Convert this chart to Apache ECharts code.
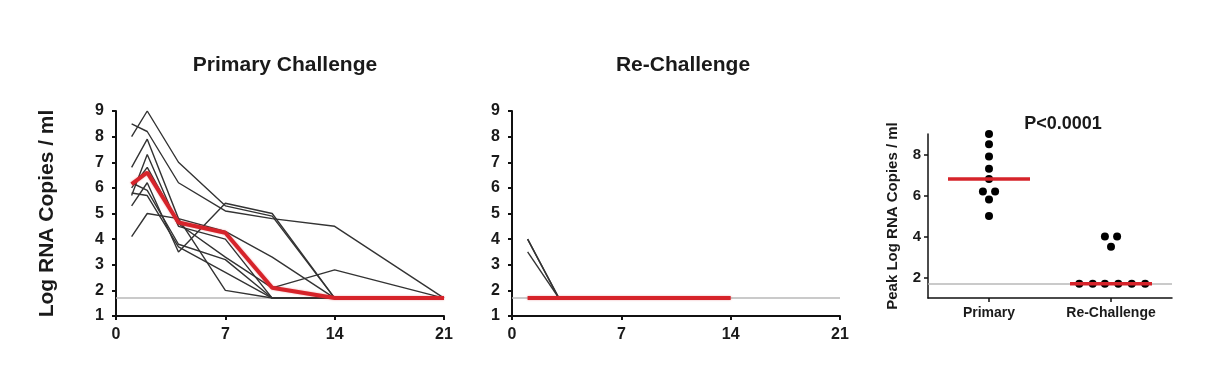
<!DOCTYPE html>
<html lang="en">
<head>
<meta charset="utf-8">
<title>Viral load after primary challenge and re-challenge</title>
</head>
<body style="margin: 0; background: #fff">
<div id="container" style="width: 1214px; height: 376px"></div>

<script type="text/javascript" src="https://cdn.jsdelivr.net/npm/echarts/dist/echarts.min.js"></script>

<script type="text/javascript">

var dom = document.getElementById('container');
var myChart = echarts.init(dom);

// limit of detection (log copies / ml)
var lod = 1.7;

// primary challenge: days post challenge, one row per animal
var days = [1, 2, 4, 7, 10, 14, 21];
var primaryAnimals = [
    [8.0, 9.0, 7.0, 5.3, 4.9, 1.7, 1.7],
    [8.5, 8.2, 6.2, 5.1, 4.8, 4.5, 1.7],
    [6.8, 7.9, 4.8, 4.3, 3.3, 1.7, 1.7],
    [5.7, 7.3, 4.5, 4.0, 1.7, 1.7, 1.7],
    [6.0, 6.8, 4.6, 3.3, 2.1, 2.8, 1.7],
    [6.2, 5.9, 3.8, 3.2, 1.7, 1.7, 1.7],
    [5.3, 6.2, 3.5, 5.4, 5.0, 1.7, 1.7],
    [5.8, 5.7, 3.7, 2.7, 1.7, 1.7, 1.7],
    [4.1, 5.0, 4.8, 2.0, 1.7, 1.7, 1.7]
];
var primaryMean = [6.15, 6.6, 4.65, 4.25, 2.1, 1.7, 1.7];

// re-challenge
var reDays = [1, 3];
var reAnimals = [
    [4.0, 1.7],
    [4.0, 1.7],
    [3.5, 1.7]
];
var reMeanDays = [1, 14];
var reMean = [1.7, 1.7];

// peak values per group
var groups = ['Primary', 'Re-Challenge'];
var peakPrimary = [9.0, 8.5, 7.9, 7.3, 6.8, 6.2, 6.2, 5.8, 5.0];
var peakRe = [4.0, 4.0, 3.5, 1.7, 1.7, 1.7, 1.7, 1.7, 1.7];
// horizontal spread of the dots inside each group (fraction of a group slot)
var spreadPrimary = [0, 0, 0, 0, 0, -0.05, 0.05, 0, 0];
var spreadRe = [-0.05, 0.05, 0, -0.26, -0.15, -0.05, 0.06, 0.17, 0.28];

var dayTicks = [0, 7, 14, 21];
var pValue = 'P<0.0001';

var font = '"Liberation Sans", Arial, sans-serif';
var ink = '#1a1a1a';
var red = '#d6232a';

function median(arr) {
    var s = arr.slice().sort(function (a, b) { return a - b; });
    var m = Math.floor(s.length / 2);
    return s.length % 2 ? s[m] : (s[m - 1] + s[m]) / 2;
}

function timeXAxis(gridIndex) {
    return {
        gridIndex: gridIndex,
        type: 'value',
        min: dayTicks[0],
        max: dayTicks[dayTicks.length - 1],
        interval: 7,
        axisLine: { show: true, onZero: false, lineStyle: { color: '#111', width: 2 } },
        axisTick: { show: true, length: 4, lineStyle: { color: '#111', width: 2 } },
        axisLabel: { color: ink, fontSize: 16, fontWeight: 'bold', fontFamily: font, margin: 11 },
        splitLine: { show: false }
    };
}

function logYAxis(gridIndex, name) {
    return {
        gridIndex: gridIndex,
        type: 'value',
        min: 1,
        max: 9,
        interval: 1,
        name: name,
        nameLocation: 'middle',
        nameGap: 58,
        nameTextStyle: { color: ink, fontSize: 21, fontWeight: 'bold', fontFamily: font },
        axisLine: { show: true, lineStyle: { color: '#111', width: 2 } },
        axisTick: { show: true, length: 4, lineStyle: { color: '#111', width: 2 } },
        axisLabel: { color: ink, fontSize: 16, fontWeight: 'bold', fontFamily: font, margin: 12 },
        splitLine: { show: false }
    };
}

function lodLine(xi, yi) {
    return {
        type: 'line',
        xAxisIndex: xi,
        yAxisIndex: yi,
        data: [],
        z: 1,
        silent: true,
        markLine: {
            z: 1,
            silent: true,
            symbol: 'none',
            label: { show: false },
            lineStyle: { color: '#b8b8b8', width: 1.5, type: 'solid', opacity: 1 },
            data: [{ yAxis: lod }]
        }
    };
}

function animalLine(xs, vals, xi, yi) {
    return {
        type: 'line',
        xAxisIndex: xi,
        yAxisIndex: yi,
        data: xs.map(function (d, i) { return [d, vals[i]]; }),
        symbol: 'none',
        z: 2,
        silent: true,
        lineStyle: { color: '#333', width: 1.4 }
    };
}

function meanLine(xs, vals, xi, yi) {
    return {
        type: 'line',
        xAxisIndex: xi,
        yAxisIndex: yi,
        data: xs.map(function (d, i) { return [d, vals[i]]; }),
        symbol: 'none',
        z: 3,
        silent: true,
        lineStyle: { color: red, width: 4, shadowBlur: 2, shadowColor: 'rgba(214,35,42,0.45)' }
    };
}

var series = [lodLine(0, 0), lodLine(1, 1), lodLine(2, 2)];
primaryAnimals.forEach(function (vals) { series.push(animalLine(days, vals, 0, 0)); });
series.push(meanLine(days, primaryMean, 0, 0));
reAnimals.forEach(function (vals) { series.push(animalLine(reDays, vals, 1, 1)); });
series.push(meanLine(reMeanDays, reMean, 1, 1));

// peak dot plot
var dots = peakPrimary.map(function (v, i) { return [0.5 + spreadPrimary[i], v]; })
    .concat(peakRe.map(function (v, i) { return [1.5 + spreadRe[i], v]; }));
series.push({
    type: 'scatter',
    xAxisIndex: 2,
    yAxisIndex: 2,
    data: dots,
    symbolSize: 8,
    z: 2,
    silent: true,
    itemStyle: { color: '#000', opacity: 1 }
});
series.push({
    type: 'scatter',
    xAxisIndex: 2,
    yAxisIndex: 2,
    data: [[0.5, median(peakPrimary)], [1.5, median(peakRe)]],
    symbol: 'rect',
    symbolSize: [82, 3.5],
    z: 3,
    silent: true,
    itemStyle: { color: red, opacity: 1 }
});

var option = {
    animation: false,
    backgroundColor: '#fff',
    title: [
        { text: 'Primary Challenge', left: 280, top: 50, textAlign: 'center',
          textStyle: { color: ink, fontSize: 21, fontWeight: 'bold', fontFamily: font } },
        { text: 'Re-Challenge', left: 678, top: 50, textAlign: 'center',
          textStyle: { color: ink, fontSize: 21, fontWeight: 'bold', fontFamily: font } },
        { text: pValue, left: 1058, top: 110, textAlign: 'center',
          textStyle: { color: ink, fontSize: 18, fontWeight: 'bold', fontFamily: font } }
    ],
    grid: [
        { left: 116, top: 111, width: 328, height: 205, outerBoundsMode: 'none' },
        { left: 512, top: 111, width: 328, height: 205, outerBoundsMode: 'none' },
        { left: 928, top: 134, width: 244, height: 164, outerBoundsMode: 'none' }
    ],
    xAxis: [
        timeXAxis(0),
        timeXAxis(1),
        {
            gridIndex: 2,
            type: 'value',
            min: 0,
            max: groups.length,
            axisLine: { show: true, onZero: false, lineStyle: { color: '#111', width: 1.5 } },
            axisTick: { show: true, length: 4, customValues: [0.5, 1.5], lineStyle: { color: '#111', width: 1.5 } },
            axisLabel: {
                customValues: [0.5, 1.5],
                color: ink, fontSize: 14, fontWeight: 'bold', fontFamily: font, margin: 8,
                formatter: function (v) { return groups[Math.floor(v)]; }
            },
            splitLine: { show: false }
        }
    ],
    yAxis: [
        logYAxis(0, 'Log RNA Copies / ml'),
        logYAxis(1, ''),
        {
            gridIndex: 2,
            type: 'value',
            min: 1,
            max: 9,
            name: 'Peak Log RNA Copies / ml',
            nameLocation: 'middle',
            nameGap: 28,
            nameTextStyle: { color: ink, fontSize: 15, fontWeight: 'bold', fontFamily: font },
            axisLine: { show: true, lineStyle: { color: '#111', width: 1.5 } },
            axisTick: { show: true, length: 4, customValues: [2, 4, 6, 8], lineStyle: { color: '#111', width: 1.5 } },
            axisLabel: {
                customValues: [2, 4, 6, 8],
                color: ink, fontSize: 15, fontWeight: 'bold', fontFamily: font, margin: 7
            },
            splitLine: { show: false }
        }
    ],
    series: series
};

if (option && typeof option === 'object') {
    myChart.setOption(option);
}

window.addEventListener('resize', myChart.resize);
</script>
</body>
</html>
